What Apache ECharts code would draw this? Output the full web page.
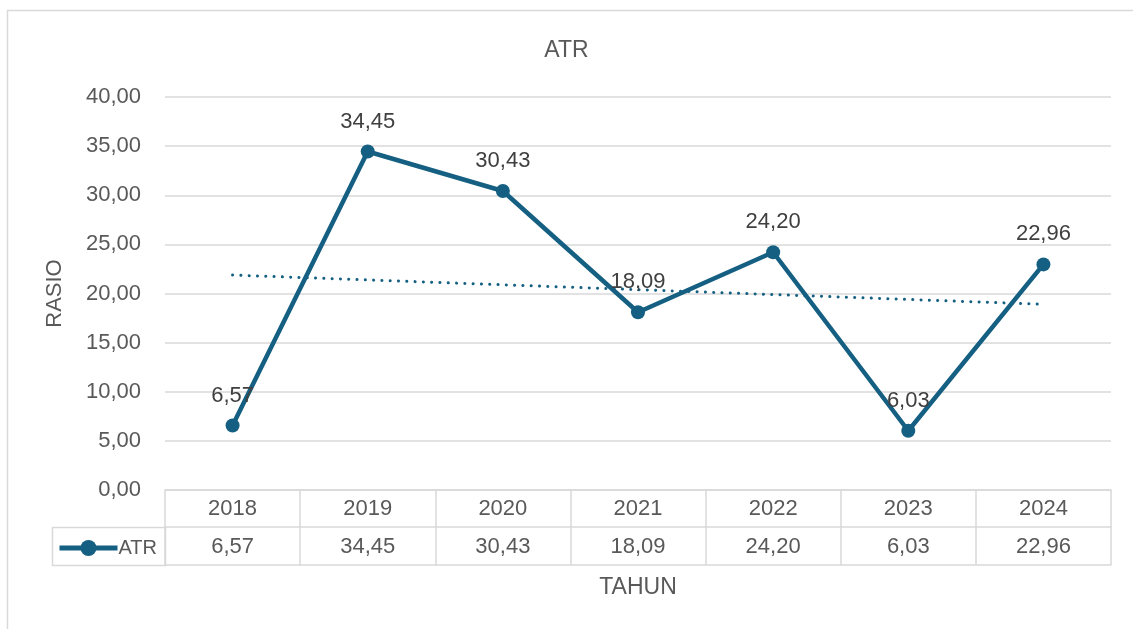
<!DOCTYPE html>
<html>
<head>
<meta charset="utf-8">
<title>ATR</title>
<script src="https://cdn.jsdelivr.net/npm/echarts@6/dist/echarts.min.js"></script>
<style>
    html, body { margin: 0; padding: 0; background: #fff; }
    #chart { width: 1133px; height: 629px; }
</style>
</head>
<body>
<div id="chart"></div>
<script>
    const years = ['2018', '2019', '2020', '2021', '2022', '2023', '2024']
    const atr = [6.57, 34.45, 30.43, 18.09, 24.20, 6.03, 22.96]
    const yTicks = { min: 0, max: 40, interval: 5 }

    const fmt = v => v.toFixed(2).replace('.', ',')

    //  linear trendline (least squares, like Excel)
    const n = atr.length
    const mx = (n + 1) / 2
    const my = atr.reduce((a, b) => a + b, 0) / n
    let sxy = 0
    let sxx = 0
    atr.forEach(function(y, i) {
        sxy += (i + 1 - mx) * (y - my)
        sxx += (i + 1 - mx) * (i + 1 - mx)
    })
    const slope = sxy / sxx
    const trend = atr.map((y, i) => +(my + slope * (i + 1 - mx)).toFixed(3))

    const font = '"Liberation Sans", Arial, sans-serif'
    const gridColor = '#d9d9d9'
    const textColor = '#595959'
    const lineColor = '#156082'

    const chart = echarts.init(document.getElementById('chart'))
    const option = {
        animation: false,
        textStyle: { fontFamily: font },
        title: {
            text: 'ATR',
            left: 'center',
            top: 34,
            textStyle: { fontFamily: font, fontSize: 23, fontWeight: 'normal', color: textColor }
        },
        legend: {
            data: ['ATR'],
            left: 52,
            top: 533,
            itemWidth: 58,
            itemHeight: 20,
            itemGap: 2,
            lineStyle: { width: 5 },
            textStyle: { fontFamily: font, fontSize: 20, color: textColor, padding: [0, 0, 0, -4] }
        },
        grid: {
            left: 165,
            right: 22,
            top: 97,
            bottom: 139
        },
        graphic: [
            {
                type: 'rect',
                shape: { x: 7.5, y: 10.5, width: 1200, height: 700 },
                style: { fill: 'none', stroke: gridColor, lineWidth: 1.5 },
                silent: true
            },
            {
                type: 'rect',
                shape: { x: 52.5, y: 527.5, width: 113, height: 38 },
                style: { fill: 'none', stroke: gridColor, lineWidth: 1.5 },
                silent: true
            }
        ],
        xAxis: [
            {
                type: 'category',
                data: years,
                boundaryGap: true,
                axisLine: { lineStyle: { color: gridColor, width: 1.5 } },
                axisTick: { show: true, interval: 0, length: 75, lineStyle: { color: gridColor, width: 1.5 } },
                axisLabel: { margin: 8, fontSize: 22, color: textColor, interval: 0 }
            },
            {
                type: 'category',
                data: atr.map(fmt),
                position: 'bottom',
                offset: 37,
                boundaryGap: true,
                axisLine: { lineStyle: { color: gridColor, width: 1.5 } },
                axisTick: { show: false },
                axisLabel: { margin: 9, fontSize: 22, color: textColor, interval: 0 }
            },
            {
                type: 'category',
                data: years,
                position: 'bottom',
                offset: 75,
                name: 'TAHUN',
                nameLocation: 'middle',
                nameGap: 11,
                nameTextStyle: { fontSize: 23, color: textColor },
                axisLine: { lineStyle: { color: gridColor, width: 1.5 } },
                axisTick: { show: false },
                axisLabel: { show: false }
            }
        ],
        yAxis: {
            type: 'value',
            min: yTicks.min,
            max: yTicks.max,
            interval: yTicks.interval,
            name: 'RASIO',
            nameLocation: 'middle',
            nameGap: 99,
            nameRotate: 90,
            nameTextStyle: { fontSize: 22, color: textColor },
            axisLine: { show: false },
            axisTick: { show: false },
            axisLabel: { margin: 24, fontSize: 22, color: textColor, formatter: v => fmt(v) },
            splitLine: { lineStyle: { color: gridColor, width: 1.5 } }
        },
        series: [
            {
                name: 'ATR',
                type: 'line',
                data: atr,
                xAxisIndex: 0,
                symbol: 'circle',
                symbolSize: 14,
                lineStyle: { color: lineColor, width: 4.5 },
                itemStyle: { color: lineColor },
                label: {
                    show: true,
                    position: 'top',
                    distance: 12,
                    fontSize: 22,
                    color: '#404040',
                    formatter: p => fmt(p.value)
                },
                z: 3
            },
            {
                name: 'Linear (ATR)',
                type: 'line',
                data: trend,
                xAxisIndex: 0,
                symbol: 'none',
                silent: true,
                lineStyle: { color: lineColor, width: 3, type: [0.1, 8.2], cap: 'round' },
                z: 2
            }
        ]
    }
    option && chart.setOption(option)
</script>
</body>
</html>
